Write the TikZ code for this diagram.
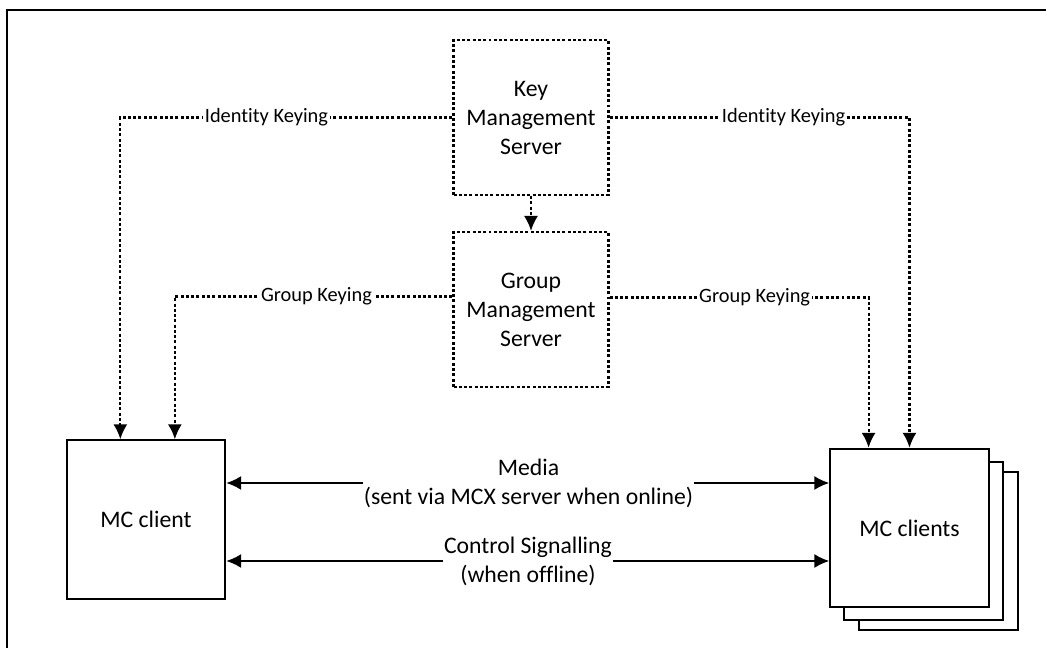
\documentclass[tikz,border=0pt]{standalone}
\usepackage{fontspec}
\setmainfont{Carlito}[Ligatures=CommonOff]
\usetikzlibrary{arrows.meta,calc}

\begin{document}
\begin{tikzpicture}[x=0.02cm,y=-0.02cm,>={Latex[length=8.5pt,width=8pt]},line width=1.1pt,
	srv/.style={draw,line width=1.25pt,dash pattern=on 1.7pt off 1.3pt,minimum width=3.1cm,minimum height=3.1cm,align=center,font=\fontsize{13.5}{16.5}\selectfont},
	cli/.style={draw,fill=white,minimum width=3.17cm,minimum height=3.17cm,font=\fontsize{13.5}{16.5}\selectfont},
	dotline/.style={line width=1.25pt,dash pattern=on 1.7pt off 1.3pt},
	keylbl/.style={fill=white,inner xsep=1pt,inner ysep=0pt,font=\fontsize{11.6}{14}\selectfont},
	msglbl/.style={align=center,inner sep=0pt,font=\fontsize{13.5}{16.5}\selectfont}]
	\useasboundingbox (0,0) rectangle (1046,648);
	\clip (0,0) rectangle (1046,648);
	%Cornice
	\draw (7,10) rectangle (1070,680);
	%Server
	\node [srv] (kms) at (531,117.5) {Key\\Management\\Server};
	\node [srv] (gms) at (531,309.5) {Group\\Management\\Server};
	%Client
	\node [cli] (client) at (146,519.5) {MC client};
	\node [cli] (clients3) at (938.5,551) {};
	\node [cli] (clients2) at (923.5,541) {};
	\node [cli] (clients) at (909.5,528) {MC clients};
	%Keying
	\draw [dotline,->] (kms) -- (gms);
	\draw [dotline,->] (kms.west) -| ($(client.north west)!0.34!(client.north east)$) node [keylbl,pos=0.28] {Identity Keying};
	\draw [dotline,->] ($(gms.west)+(0,-13)$) -| ($(client.north west)!0.68!(client.north east)$) node [keylbl,pos=0.245] {Group Keying};
	\draw [dotline,->] (kms.east) -| (clients.north) node [keylbl,pos=0.29] {Identity Keying};
	\draw [dotline,->] ($(gms.east)+(0,-12)$) -| ($(clients.north west)!0.245!(clients.north east)$) node [keylbl,pos=0.28] {Group Keying};
	%Media e segnalazione
	\node [msglbl] (media) at (528.5,483) {Media\\(sent via MCX server when online)};
	\node [msglbl] (ctrl) at (528,561) {Control Signalling\\(when offline)};
	\draw [->] (media.west) -- (media.west -| client.east);
	\draw [->] (media.east) -- (media.east -| clients.west);
	\draw [->] (ctrl.west) -- (ctrl.west -| client.east);
	\draw [->] (ctrl.east) -- (ctrl.east -| clients.west);
\end{tikzpicture}
\end{document}
